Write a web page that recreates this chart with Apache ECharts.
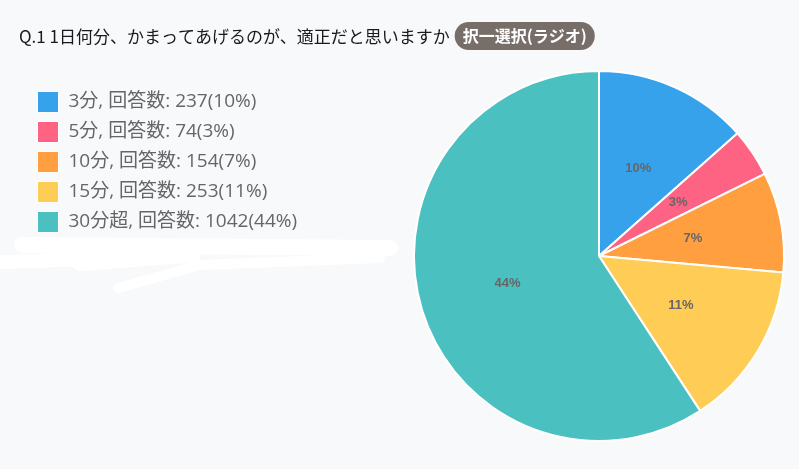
<!DOCTYPE html>
<html><head><meta charset="utf-8">
<script src="https://cdn.jsdelivr.net/npm/echarts@6/dist/echarts.min.js"></script>
<style>html,body{margin:0;padding:0;background:#f8f9fb;}#c{width:799px;height:469px;}</style>
</head><body><div id="c"></div>
<script>
const categories = ['3分', '5分', '10分', '15分', '30分超'];
const counts = [237, 74, 154, 253, 1042];
const percentLabels = ['10%', '3%', '7%', '11%', '44%'];
const colors = ['#36a2eb', '#ff6384', '#ff9f40', '#ffcd56', '#4bc0c0'];
const titleText = 'Q.1 1日何分、かまってあげるのが、適正だと思いますか';
const badgeText = '択一選択(ラジオ)';

const chart = echarts.init(document.getElementById('c'));
const data = categories.map((c, i) => ({ name: c, value: counts[i], itemStyle: { color: colors[i] } }));
const font = "'Open Sans','Noto Sans CJK JP',sans-serif";
chart.setOption({
  backgroundColor: '#f8f9fb',
  animation: false,
  title: {
    left: 14, top: 17,
    text: '{q|' + titleText + '} {b|' + badgeText + '}',
    textStyle: {
      rich: {
        q: { fontSize: 17, color: '#1a1a1a', fontWeight: 'normal', fontFamily: "'Noto Sans CJK JP',sans-serif", padding: [2, 0, 0, 0] },
        b: { fontSize: 16, color: '#fff', fontWeight: 'bold', fontFamily: "'Noto Sans CJK JP',sans-serif",
             backgroundColor: '#786e69', borderRadius: 15, padding: [6, 8, 6, 8] }
      }
    }
  },
  legend: {
    orient: 'vertical', left: 32, top: 86,
    itemWidth: 21, itemHeight: 21, itemGap: 8,
    icon: 'rect',
    data: categories,
    formatter: function (name) {
      const i = categories.indexOf(name);
      return name + ', 回答数: ' + counts[i] + '(' + percentLabels[i] + ')';
    },
    textStyle: { fontSize: 19, lineHeight: 21, color: '#666', fontFamily: font, padding: [0, 0, 0, 5] },
    itemStyle: { borderColor: '#fff', borderWidth: 1 }
  },
  graphic: [
    { type: 'polyline', silent: true, shape: { points: [[22, 245], [390, 248]] }, style: { stroke: '#ffffff', lineWidth: 16, lineCap: 'round' } },
    { type: 'polyline', silent: true, shape: { points: [[4, 262], [200, 255], [80, 264]] }, style: { stroke: '#ffffff', lineWidth: 14, lineCap: 'round' } },
    { type: 'polyline', silent: true, shape: { points: [[118, 288], [200, 265], [380, 258]] }, style: { stroke: '#ffffff', lineWidth: 10, lineCap: 'round' } }
  ],
  series: [{
    type: 'pie',
    center: [599, 256],
    radius: [0, 185],
    startAngle: 90,
    clockwise: true,
    data: data,
    itemStyle: { borderColor: '#fff', borderWidth: 2 },
    label: {
      position: 'inside',
      formatter: function (p) { return percentLabels[p.dataIndex]; },
      fontSize: 13, fontWeight: 'bold', color: '#666',
      fontFamily: "'Liberation Sans',Arial,sans-serif"
    },
    labelLine: { show: false },
    emphasis: { disabled: true }
  }]
});
</script></body></html>
